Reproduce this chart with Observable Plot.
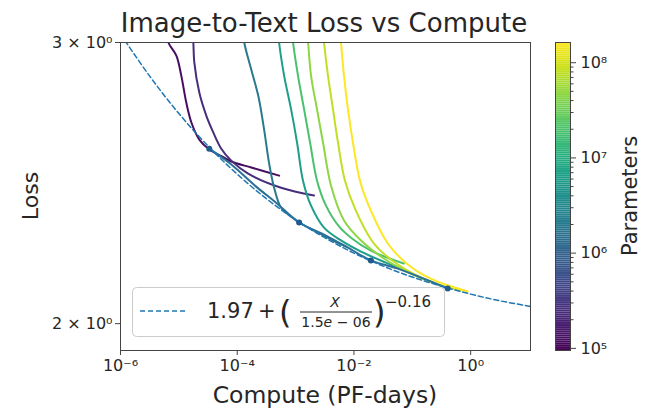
<!DOCTYPE html>
<html><head><meta charset="utf-8">
<script src="https://cdn.jsdelivr.net/npm/d3@7"></script>
<script src="https://cdn.jsdelivr.net/npm/@observablehq/plot@0.6"></script>
<style>
body{margin:0;background:#fff;}
#fig{position:relative;width:651px;height:412px;font-family:"DejaVu Sans",sans-serif;color:#262626;overflow:hidden}
</style></head><body><div id="fig"></div>
<script>
// ---- data ----
const paramsRuns = [1.2e5, 2.5e5, 2e6, 6e6, 1.9e7, 4.6e7, 8.1e7, 1.6e8];

const computeA = [6.11e-6, 6.61e-6, 9.06e-6, 1.10e-5, 1.34e-5, 1.64e-5, 2.24e-5, 3.32e-5, 6.00e-5, 7.90e-5, 1.74e-4, 5.22e-4];
const lossA    = [3.052, 3.000, 2.944, 2.860, 2.751, 2.673, 2.608, 2.571, 2.541, 2.527, 2.505, 2.476];

const computeB = [1.70e-5, 1.77e-5, 1.84e-5, 2.24e-5, 2.95e-5, 3.89e-5, 5.33e-5, 7.90e-5, 1.54e-4, 5.65e-4, 2.07e-3];
const lossB    = [3.052, 3.000, 2.915, 2.791, 2.700, 2.635, 2.574, 2.530, 2.483, 2.433, 2.406];

const computeC = [1.27e-4, 1.32e-4, 1.74e-4, 2.29e-4, 2.89e-4, 3.52e-4, 4.29e-4, 5.65e-4, 8.38e-4, 1.15e-3, 2.24e-3, 4.05e-3, 7.30e-3];
const lossC    = [3.052, 3.000, 2.885, 2.779, 2.646, 2.520, 2.433, 2.364, 2.334, 2.314, 2.284, 2.258, 2.235];

const computeD = [5.02e-4, 5.22e-4, 6.36e-4, 8.38e-4, 1.06e-3, 1.34e-3, 1.84e-3, 3.07e-3, 6.00e-3, 1.32e-2, 3.52e-2, 6.36e-2];
const lossD    = [3.052, 3.000, 2.860, 2.724, 2.597, 2.458, 2.371, 2.297, 2.255, 2.219, 2.184, 2.165];

const computeE = [8.71e-4, 9.06e-4, 1.10e-3, 1.40e-3, 1.77e-3, 2.33e-3, 3.32e-3, 5.54e-3, 8.89e-3, 1.95e-2, 7.16e-2];
const lossE    = [3.052, 3.000, 2.860, 2.724, 2.597, 2.458, 2.371, 2.301, 2.264, 2.222, 2.181];

const computeF = [1.57e-3, 1.64e-3, 1.84e-3, 2.33e-3, 2.95e-3, 4.05e-3, 6.75e-3, 1.32e-2, 3.26e-2, 9.43e-2, 0.307];
const lossF    = [3.052, 3.000, 2.860, 2.724, 2.597, 2.440, 2.321, 2.255, 2.197, 2.150, 2.113];

const computeG = [2.95e-3, 3.07e-3, 3.59e-3, 4.38e-3, 5.33e-3, 7.02e-3, 1.08e-2, 2.20e-2, 5.65e-2, 0.207, 0.675];
const lossG    = [3.052, 3.000, 2.860, 2.724, 2.597, 2.458, 2.354, 2.245, 2.178, 2.125, 2.098];

const computeH = [5.77e-3, 6.00e-3, 6.75e-3, 7.90e-3, 9.61e-3, 1.27e-2, 1.95e-2, 3.81e-2, 8.38e-2, 0.207, 0.889];
const lossH    = [3.052, 3.000, 2.860, 2.724, 2.597, 2.458, 2.354, 2.245, 2.178, 2.134, 2.095];

const frontierCompute = [3.32e-5, 7.90e-5, 2.11e-4, 4.64e-4, 1.15e-3, 3.32e-3, 8.89e-3, 1.95e-2, 5.65e-2, 0.157, 0.404];
const frontierLoss    = [2.574, 2.516, 2.437, 2.381, 2.314, 2.271, 2.226, 2.191, 2.165, 2.134, 2.104];
const dotCompute = [3.32e-5, 1.15e-3, 1.95e-2, 0.404];
const dotLoss    = [2.574, 2.314, 2.191, 2.104];

const fitCompute = [1e-6, 3.16e-6, 1e-5, 3.16e-5, 1e-4, 3.16e-4, 1e-3, 3.16e-3, 1e-2, 3.16e-2, 1e-1, 3.16e-1, 1, 3.16, 10, 10.7];
const fitLoss    = [3.037, 2.858, 2.708, 2.584, 2.481, 2.395, 2.323, 2.264, 2.214, 2.173, 2.139, 2.111, 2.087, 2.067, 2.051, 2.050];

const xTicks = [1e-6, 1e-4, 1e-2, 1];
const xTickLabels = ["10\u207B\u2076", "10\u207B\u2074", "10\u207B\u00B2", "10\u2070"];
const yTicks = [2, 3];
const yTickLabels = ["2 \u00D7 10\u2070", "3 \u00D7 10\u2070"];
const cTicks = [1e5, 1e6, 1e7, 1e8];
const cTickLabels = ["10\u2075", "10\u2076", "10\u2077", "10\u2078"];

// ---- build tables ----
const runCompute = [computeA, computeB, computeC, computeD, computeE, computeF, computeG, computeH];
const runLoss = [lossA, lossB, lossC, lossD, lossE, lossF, lossG, lossH];
const runs = runCompute.flatMap((cs, k) => cs.map((c, i) => ({compute: c, loss: runLoss[k][i], params: paramsRuns[k]})));
const frontier = frontierCompute.map((c, i) => ({compute: c, loss: frontierLoss[i]}));
const dots = dotCompute.map((c, i) => ({compute: c, loss: dotLoss[i]}));
const fit = fitCompute.map((c, i) => ({compute: c, loss: fitLoss[i]}));

const xFmt = new Map(xTicks.map((t, i) => [t, xTickLabels[i]]));
const yFmt = new Map(yTicks.map((t, i) => [t, yTickLabels[i]]));
const cFmt = new Map(cTicks.map((t, i) => [t, cTickLabels[i]]));

const colorDomain = [9.5e4, 1.63e8];
const font = "DejaVu Sans";
const ink = "#262626";

const main = Plot.plot({
  width: 651, height: 412,
  marginTop: 42, marginBottom: 62, marginLeft: 120, marginRight: 121,
  x: {type: "log", domain: [1e-6, 10.6]},
  y: {type: "log", domain: [1.924, 3.0]},
  color: {type: "log", scheme: "viridis", domain: colorDomain},
  style: {fontFamily: font, color: ink, background: "transparent", overflow: "visible"},
  marks: [
    Plot.line(runs, {x: "compute", y: "loss", stroke: "params", z: "params", strokeWidth: 2, curve: "catmull-rom", clip: true}),
    Plot.line(frontier, {x: "compute", y: "loss", stroke: "#2d6f94", strokeWidth: 2, curve: "catmull-rom", clip: true}),
    Plot.line(fit, {x: "compute", y: "loss", stroke: "#1f77b4", strokeWidth: 1.5, strokeDasharray: "5,3", curve: "catmull-rom", clip: true}),
    Plot.dot(dots, {x: "compute", y: "loss", r: 3, fill: "#1f5b8c", stroke: null}),
    Plot.frame({stroke: "#444", strokeWidth: 1}),
    Plot.axisX({ticks: xTicks, tickFormat: d => xFmt.get(d), tickSize: 5, tickPadding: 4, fontSize: 16, label: null, stroke: "#444"}),
    Plot.axisY({ticks: yTicks, tickFormat: d => yFmt.get(d), tickSize: 5, tickPadding: 3, fontSize: 16, label: null, stroke: "#444"})
  ]
});
main.style.position = "absolute"; main.style.left = "0px"; main.style.top = "0px";

const nSteps = 160;
const l0 = Math.log10(colorDomain[0]), l1 = Math.log10(colorDomain[1]);
const steps = d3.range(nSteps).map(i => ({y1: 10 ** (l0 + (l1 - l0) * i / nSteps), y2: 10 ** (l0 + (l1 - l0) * (i + 1) / nSteps), v: 10 ** (l0 + (l1 - l0) * (i + 0.5) / nSteps)}));
const minor = [];
for (let e = 5; e <= 8; e++) for (let m = 2; m <= 9; m++) { const v = m * 10 ** e; if (v < colorDomain[1]) minor.push(v); }

const cbar = Plot.plot({
  width: 106, height: 412,
  marginTop: 42, marginBottom: 62, marginLeft: 10, marginRight: 81,
  x: {domain: [0, 1], axis: null},
  y: {type: "log", domain: colorDomain},
  color: {type: "log", scheme: "viridis", domain: colorDomain},
  style: {fontFamily: font, color: ink, background: "transparent", overflow: "visible"},
  marks: [
    Plot.rect(steps, {x1: 0, x2: 1, y1: "y1", y2: "y2", fill: "v", inset: 0}),
    Plot.frame({stroke: "#444", strokeWidth: 1}),
    Plot.axisY({anchor: "right", ticks: minor, tickFormat: () => "", tickSize: 2.5, label: null, stroke: "#444"}),
    Plot.axisY({anchor: "right", ticks: cTicks, tickFormat: d => cFmt.get(d), tickSize: 5, tickPadding: 5, fontSize: 16, label: null, stroke: "#444"})
  ]
});
cbar.style.position = "absolute"; cbar.style.left = "545px"; cbar.style.top = "0px";

const fig = document.getElementById("fig");
fig.appendChild(main);
fig.appendChild(cbar);

// ---- texts & legend overlay ----
const ns = "http://www.w3.org/2000/svg";
const ov = document.createElementNS(ns, "svg");
ov.setAttribute("width", 651); ov.setAttribute("height", 412);
ov.style.position = "absolute"; ov.style.left = "0px"; ov.style.top = "0px";
ov.style.fontFamily = font;
ov.innerHTML = `
  <text x="324" y="32" text-anchor="middle" font-size="26" fill="${ink}">Image-to-Text Loss vs Compute</text>
  <text x="325" y="403" text-anchor="middle" font-size="23.5" fill="${ink}">Compute (PF-days)</text>
  <text transform="translate(38,196) rotate(-90)" text-anchor="middle" font-size="22" fill="${ink}">Loss</text>
  <text transform="translate(637,196) rotate(-90)" text-anchor="middle" font-size="21" fill="${ink}">Parameters</text>
  <g transform="translate(132,287)">
    <rect x="0.5" y="0.5" width="312" height="49" rx="4" fill="white" fill-opacity="0.85" stroke="#cccccc"/>
    <line x1="8" x2="55" y1="24" y2="24" stroke="#1f77b4" stroke-width="1.5" stroke-dasharray="5,3"/>
    <text x="75" y="31" font-size="21" fill="${ink}">1.97</text>
    <text x="126" y="31" font-size="21" fill="${ink}">+</text>
    <text x="147" y="36" font-size="32" fill="${ink}">(</text>
    <text x="203" y="20" font-size="14" text-anchor="middle" font-style="italic" fill="${ink}">X</text>
    <line x1="168" x2="240" y1="25" y2="25" stroke="${ink}" stroke-width="1"/>
    <text x="204" y="40" font-size="14" text-anchor="middle" fill="${ink}">1.5<tspan font-style="italic">e</tspan> \u2212 06</text>
    <text x="241" y="36" font-size="32" fill="${ink}">)</text>
    <text x="253" y="20" font-size="15" fill="${ink}">\u22120.16</text>
  </g>`;
fig.appendChild(ov);
</script></body></html>
